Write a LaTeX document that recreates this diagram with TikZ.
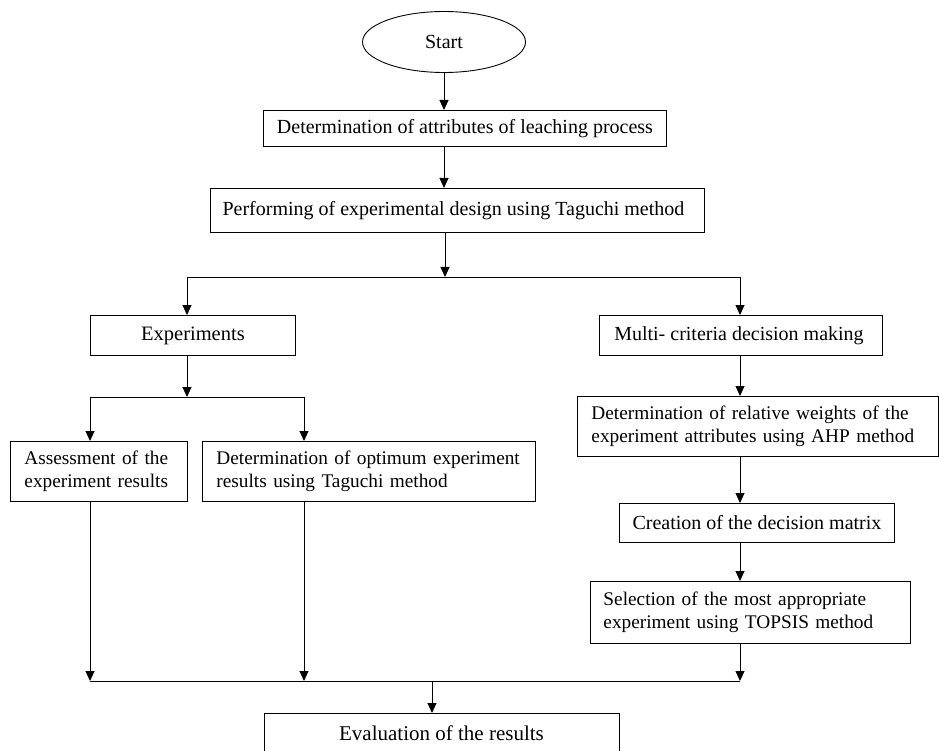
\documentclass[tikz,border=0pt]{standalone}
\usepackage{fontspec}
\setmainfont{Liberation Serif}
\usetikzlibrary{arrows.meta,shapes.geometric}
\begin{document}
\begin{tikzpicture}[x=1pt,y=-1pt,
  every node/.style={font=\fontsize{20}{22}\selectfont},
  box/.style={draw, line width=0.9pt, rectangle, inner sep=0pt, anchor=north west},
  mbox/.style={box, inner xsep=14pt, align=left, font=\fontsize{19.3}{23}\selectfont},
  arr/.style={line width=0.9pt, -{Triangle[length=10pt,width=9pt]}},
  ln/.style={line width=0.9pt}]
\useasboundingbox (0,0) rectangle (939,751);
\fill[white] (0,0) rectangle (939,751);
% nodes
\node[draw, line width=0.9pt, ellipse, minimum width=163pt, minimum height=61pt, inner sep=0pt] (start) at (444,42) {Start};
\node[box, minimum width=403pt, minimum height=36pt] (b1) at (263,110) {Determination of attributes of leaching process};
\node[box, minimum width=494pt, minimum height=44pt] (b2) at (210,188) {Performing of experimental design using Taguchi method\hspace*{8pt}};
\node[box, minimum width=205pt, minimum height=40pt, font=\fontsize{20.5}{22}\selectfont] (exp) at (90,315) {Experiments};
\node[box, minimum width=283pt, minimum height=40pt] (mcdm) at (599,315) {Multi- criteria decision making\hspace*{4pt}};
\node[mbox, text width=149pt, minimum height=60pt] (assess) at (10,441) {\mbox{Assessment of the}\\\mbox{experiment results}};
\node[mbox, text width=305pt, minimum height=60pt] (detopt) at (202,441) {\mbox{Determination of optimum experiment}\\\mbox{results using Taguchi method}};
\node[mbox, text width=333pt, minimum height=60pt] (detrel) at (577,396) {\mbox{Determination of relative weights of the}\\\mbox{experiment attributes using AHP method}};
\node[box, minimum width=275pt, minimum height=39pt] (creat) at (619,503) {Creation of the decision matrix};
\node[mbox, inner xsep=13pt, text width=294pt, minimum height=62pt] (select) at (590,581) {\mbox{Selection of the most appropriate}\\\mbox{experiment using TOPSIS method}};
\node[box, minimum width=355pt, minimum height=60pt] (eval) at (264,713) {};
\node[font=\fontsize{21}{23}\selectfont] (evaltext) at (441.5,733) {Evaluation of the results};
% coordinates
\coordinate (s1) at (445,277);
\coordinate (s1l) at (187,277);
\coordinate (s1r) at (740,277);
\coordinate (s2) at (187,397);
\coordinate (s2l) at (90,397);
\coordinate (s2r) at (304,397);
\coordinate (m) at (432,681);
\coordinate (ml) at (90,681);
\coordinate (mc) at (304,681);
\coordinate (mr) at (740,681);
% connectors
\draw[arr] (start.south) -- (start.south |- b1.north);
\draw[arr] (start.south |- b1.south) -- (start.south |- b2.north);
\draw[arr] (s1 |- b2.south) -- (s1);
\draw[ln] (s1l) -- (s1r);
\draw[arr] (s1l) -- (s1l |- exp.north);
\draw[arr] (s1r) -- (s1r |- mcdm.north);
\draw[arr] (s2 |- exp.south) -- (s2);
\draw[ln] (s2l) -- (s2r);
\draw[arr] (s2l) -- (s2l |- assess.north);
\draw[arr] (s2r) -- (s2r |- detopt.north);
\draw[arr] (s1r |- mcdm.south) -- (s1r |- detrel.north);
\draw[arr] (s1r |- detrel.south) -- (s1r |- creat.north);
\draw[arr] (s1r |- creat.south) -- (s1r |- select.north);
\draw[arr] (ml |- assess.south) -- (ml);
\draw[arr] (mc |- detopt.south) -- (mc);
\draw[arr] (mr |- select.south) -- (mr);
\draw[ln] (ml) -- (mr);
\draw[arr] (m) -- (m |- eval.north);
\end{tikzpicture}
\end{document}
